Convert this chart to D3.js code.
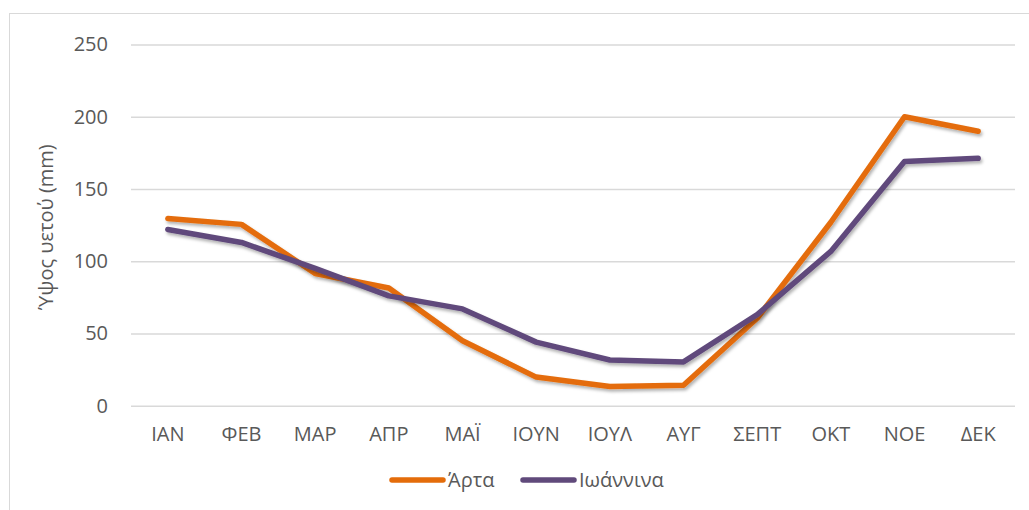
<!DOCTYPE html>
<html>
<head>
<meta charset="utf-8">
<script src="https://cdn.jsdelivr.net/npm/d3@7"></script>
<style>
  body { margin: 0; background: #fff; }
  text { font-family: "Open Sans", sans-serif; fill: #595959; }
</style>
</head>
<body>
<div id="chart"></div>
<script>
// data
const months = ["ΙΑΝ", "ΦΕΒ", "ΜΑΡ", "ΑΠΡ", "ΜΑΪ", "ΙΟΥΝ", "ΙΟΥΛ", "ΑΥΓ", "ΣΕΠΤ", "ΟΚΤ", "ΝΟΕ", "ΔΕΚ"];
const arta = [129.5, 125.5, 91.5, 81.5, 45, 19.8, 13.3, 14.2, 60.5, 127, 200, 190];
const ioannina = [122, 113, 95, 76, 67, 44, 31.6, 30.3, 63, 106.8, 169, 171.2];
const yTicks = [0, 50, 100, 150, 200, 250];
const seriesNames = ["Άρτα", "Ιωάννινα"];
const seriesColors = ["#E46C0A", "#604A7B"];

const width = 1029, height = 510;
const margin = { top: 44.5, right: 14, bottom: 104.3, left: 131 };

const svg = d3.select("#chart").append("svg")
    .attr("width", width)
    .attr("height", height);

// shadow like the office chart
const defs = svg.append("defs");
const filter = defs.append("filter").attr("id", "shadow")
    .attr("x", "-5%").attr("y", "-5%").attr("width", "110%").attr("height", "120%");
filter.append("feDropShadow")
    .attr("dx", 1.5).attr("dy", 2.5).attr("stdDeviation", 1.5)
    .attr("flood-color", "#000").attr("flood-opacity", 0.3);

// outer chart border
svg.append("rect")
    .attr("x", 9.5).attr("y", 13.5)
    .attr("width", width + 10).attr("height", height + 10)
    .attr("fill", "none")
    .attr("stroke", "#D9D9D9");

const x = d3.scaleBand()
    .domain(months)
    .range([margin.left, width - margin.right]);

const y = d3.scaleLinear()
    .domain([0, 250])
    .range([height - margin.bottom, margin.top]);

// gridlines + y labels
const yAxis = svg.append("g")
    .attr("transform", `translate(${margin.left},0)`)
    .call(d3.axisLeft(y).tickValues(yTicks).tickSize(-(width - margin.left - margin.right)).tickPadding(23));
yAxis.select(".domain").remove();
yAxis.selectAll(".tick line").attr("stroke", "#D9D9D9").attr("stroke-width", 1.5);
yAxis.selectAll(".tick text").style("font-size", "20px");

// x labels
const xAxis = svg.append("g")
    .attr("transform", `translate(0,${height - margin.bottom})`)
    .call(d3.axisBottom(x).tickSize(0).tickPadding(21));
xAxis.select(".domain").remove();
xAxis.selectAll(".tick text").style("font-size", "20px");

// y title
svg.append("text")
    .attr("transform", `translate(53,${(y(0) + y(250)) / 2 + 2}) rotate(-90)`)
    .attr("text-anchor", "middle")
    .style("font-size", "20px")
    .text("Ύψος υετού (mm)");

const line = d3.line()
    .x((d, i) => x(months[i]) + x.bandwidth() / 2)
    .y(d => y(d));

[arta, ioannina].forEach((values, i) => {
    svg.append("path")
        .datum(values)
        .attr("fill", "none")
        .attr("stroke", seriesColors[i])
        .attr("stroke-width", 5.5)
        .attr("stroke-linecap", "round")
        .attr("stroke-linejoin", "round")
        .attr("filter", "url(#shadow)")
        .attr("d", line);
});

// legend
const legendX = [390, 521];
seriesNames.forEach((name, i) => {
    const g = svg.append("g").attr("transform", `translate(${legendX[i]},480)`);
    g.append("line")
        .attr("x1", 2).attr("x2", 53)
        .attr("stroke", seriesColors[i])
        .attr("stroke-width", 5.5)
        .attr("stroke-linecap", "round");
    g.append("text")
        .attr("x", 58).attr("y", 7)
        .style("font-size", "20px")
        .text(name);
});
</script>
</body>
</html>
